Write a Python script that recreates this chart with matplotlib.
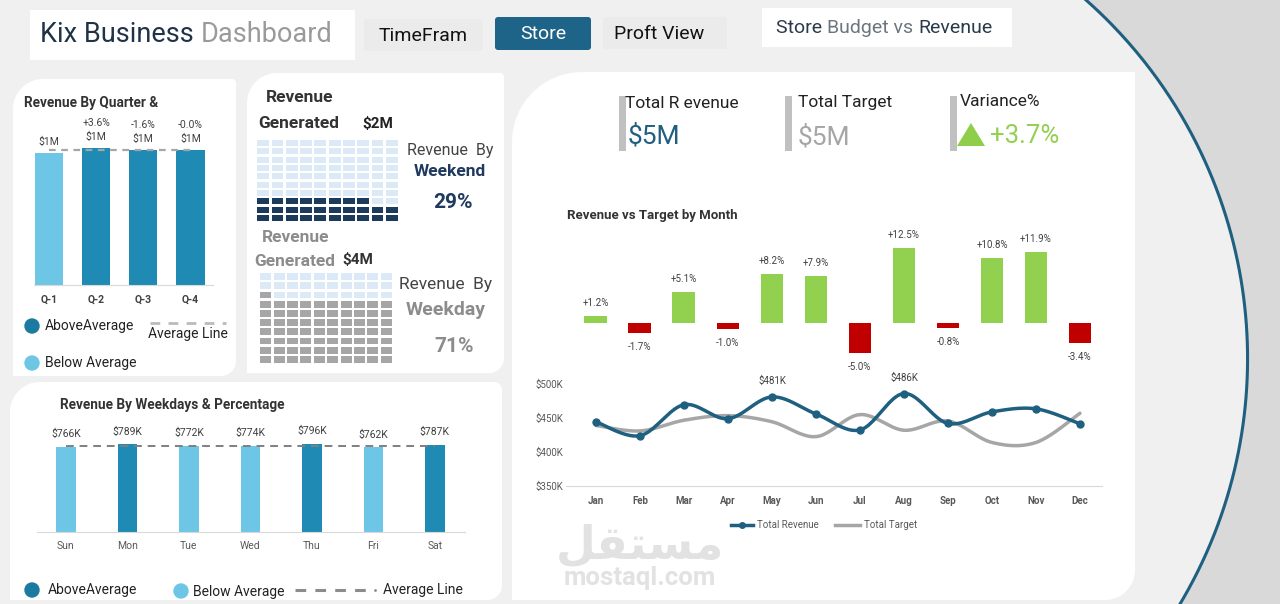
import numpy as np
import matplotlib
matplotlib.use('Agg')
import matplotlib.pyplot as plt
from matplotlib import font_manager
from matplotlib.patches import Polygon, Rectangle, Circle

W, H = 1280, 604

# ---- data (values in $K) ----
quarters = ['Q-1', 'Q-2', 'Q-3', 'Q-4']
quarter_revenue = [1339, 1387, 1365, 1364.7]

weekdays = ['Sun', 'Mon', 'Tue', 'Wed', 'Thu', 'Fri', 'Sat']
weekday_revenue = [766, 789, 772, 774, 796, 762, 787]
weekend_days = ['Sun', 'Sat']

months = ['Jan', 'Feb', 'Mar', 'Apr', 'May', 'Jun', 'Jul', 'Aug', 'Sep', 'Oct', 'Nov', 'Dec']
month_revenue = [444.5, 424, 469.5, 449, 481, 456, 432.5, 486, 442, 459, 463.5, 441.5]
month_target = [439, 431, 446.7, 453.5, 444.5, 422.6, 455, 432, 445.6, 414, 414, 457]
month_variance = [1.2, -1.7, 5.1, -1.0, 8.2, 7.9, -5.0, 12.5, -0.8, 10.8, 11.9, -3.4]
labelled_months = ['May', 'Aug']

# ---- colours ----
DARK = '#1f8ab4'
LIGHT = '#6ec6e6'
NAVY = '#1b3a5c'
TEAL = '#1f5f7f'
GREEN = '#92d050'
RED = '#c00000'
GREY = '#a6a6a6'
WAFFLE_BG = '#dce9f7'

names = {f.name for f in font_manager.fontManager.ttflist}
NARROW = 'Liberation Sans Narrow' if 'Liberation Sans Narrow' in names else 'Roboto'
plt.rcParams['font.family'] = ['Roboto', 'DejaVu Sans']

fig = plt.figure(figsize=(12.8, 6.04), dpi=100)
fig.patch.set_facecolor('#f0f0f0')
bg = fig.add_axes([0, 0, 1, 1])
bg.set_xlim(0, W)
bg.set_ylim(H, 0)
bg.axis('off')
renderer = fig.canvas.get_renderer()


def px_axes(x0, y0, x1, y1):
    ax = fig.add_axes([x0 / W, 1 - y1 / H, (x1 - x0) / W, (y1 - y0) / H])
    ax.patch.set_alpha(0)
    return ax


def panel(x0, y0, x1, y1, radii=(0, 0, 0, 0), color='white', z=1):
    tl, tr, br, bl = radii
    pts = []

    def arc(cx, cy, r, a0, a1):
        if r == 0:
            return [(cx, cy)]
        t = np.linspace(a0, a1, 16)
        return list(zip(cx + r * np.cos(t), cy + r * np.sin(t)))
    pts += arc(x0 + tl, y0 + tl, tl, np.pi, 1.5 * np.pi)
    pts += arc(x1 - tr, y0 + tr, tr, 1.5 * np.pi, 2 * np.pi)
    pts += arc(x1 - br, y1 - br, br, 0, 0.5 * np.pi)
    pts += arc(x0 + bl, y1 - bl, bl, 0.5 * np.pi, np.pi)
    bg.add_patch(Polygon(pts, closed=True, facecolor=color, edgecolor='none', zorder=z))


def rich(x, y, parts, size, **kw):
    # draw consecutive text pieces in different colours
    for txt, col in parts:
        t = bg.text(x, y, txt, color=col, fontsize=size, va='center', ha='left', zorder=5, **kw)
        x += t.get_window_extent(renderer).width


def smooth(x, y, n=24):
    # catmull-rom curve through the points (line style only)
    x = np.asarray(x, float)
    y = np.asarray(y, float)
    px = np.r_[x[0], x, x[-1]]
    py = np.r_[y[0], y, y[-1]]
    sx, sy = [], []
    t = np.linspace(0, 1, n)
    for i in range(1, len(x)):
        for arr, out in ((px, sx), (py, sy)):
            p0, p1, p2, p3 = arr[i - 1], arr[i], arr[i + 1], arr[i + 2]
            out.extend(0.5 * (2 * p1 + (-p0 + p2) * t + (2 * p0 - 5 * p1 + 4 * p2 - p3) * t ** 2
                              + (-p0 + 3 * p1 - 3 * p2 + p3) * t ** 3))
    return sx, sy


# ---- background arc on the right ----
A, B, C = np.array([1086, 0]), np.array([1246, 320]), np.array([1180, 604])
M = np.array([B - A, C - A]) * 2
rhs = np.array([B @ B - A @ A, C @ C - A @ A])
cx, cy = np.linalg.solve(M, rhs)
R = np.hypot(A[0] - cx, A[1] - cy)
ys = np.linspace(0, H, 200)
xs = cx + np.sqrt(R ** 2 - (ys - cy) ** 2)
bg.add_patch(Polygon(list(zip(xs, ys)) + [(W, H), (W, 0)], closed=True,
                     facecolor='#d9d9d9', edgecolor='none', zorder=0))
bg.plot(xs, ys, color=TEAL, lw=2.2, zorder=0.5)

# ---- header ----
panel(30, 10, 355, 60)
rich(40, 34, [('Kix Business ', '#1f3348'), ('Dashboard', '#9a9a9a')], 19.5, family=NARROW)
panel(364, 19, 483, 51, (3, 3, 3, 3), '#ebebeb')
bg.text(423, 36, 'TimeFram', fontsize=14, ha='center', va='center', color='#111', family=NARROW, zorder=5)
panel(495, 17, 591, 50, (3, 3, 3, 3), '#1e6488')
bg.text(543, 34, 'Store', fontsize=14, ha='center', va='center', color='white', family=NARROW, zorder=5)
panel(603, 17, 727, 49, (3, 3, 3, 3), '#ebebeb')
bg.text(659, 34, 'Proft View', fontsize=14, ha='center', va='center', color='#111', family=NARROW, zorder=5)
panel(762, 8, 1012, 47)
rich(776, 28, [('Store ', '#2b3a4a'), ('Budget vs ', '#6b7580'), ('Revenue', '#2b3a4a')], 14, family=NARROW)

# ---- panels ----
panel(13, 79, 236, 376, (30, 4, 15, 0))
panel(247, 73, 504, 373, (30, 4, 15, 0))
panel(512, 72, 1135, 600, (70, 0, 30, 0))
panel(10, 382, 502, 600, (30, 8, 15, 0))

# ---- revenue by quarter ----
bg.text(24, 103, 'Revenue By Quarter &', fontsize=9.8, fontweight='bold', color='#333', va='center', zorder=5)
axq = px_axes(34, 110, 213, 285)
xq = np.arange(len(quarters))
avg_q = np.mean(quarter_revenue)
axq.bar(xq, quarter_revenue, width=0.6, color=[DARK if v >= avg_q else LIGHT for v in quarter_revenue])
axq.plot([0, 3], [avg_q, avg_q], color=GREY, lw=1.6, ls=(0, (3, 2.5)))
axq.set_xlim(-0.32, 3.48)
axq.set_ylim(0, 1771)
for i, v in enumerate(quarter_revenue):
    axq.annotate(f'${v / 1000:.0f}M', (i, v), xytext=(0, 11), textcoords='offset pixels',
                 ha='center', va='center', fontsize=7.5, color='#404040')
    if i > 0:
        pct = (v / quarter_revenue[i - 1] - 1) * 100
        axq.annotate(f'{pct:+.1f}%', (i, v), xytext=(0, 25), textcoords='offset pixels',
                     ha='center', va='center', fontsize=7.5, color='#404040')
axq.set_xticks(xq, quarters)
axq.set_yticks([])
axq.tick_params(axis='x', length=0, pad=7, labelsize=7.5, labelcolor='#404040')
for lab in axq.get_xticklabels():
    lab.set_fontweight('bold')
for s in ['top', 'left', 'right']:
    axq.spines[s].set_visible(False)
axq.spines['bottom'].set_color('#d9d9d9')

bg.add_patch(Circle((32, 326), 7, color='#1a7aa0', zorder=5))
bg.text(45, 326, 'AboveAverage', fontsize=10, va='center', color='#222', family=NARROW, zorder=5)
bg.add_patch(Circle((32, 363), 7, color=LIGHT, zorder=5))
bg.text(45, 363, 'Below Average', fontsize=10, va='center', color='#222', family=NARROW, zorder=5)
bg.plot([150, 226], [323, 323], color='#bbbbbb', lw=2, ls=(0, (3.5, 3)), zorder=5)
bg.text(148, 334, 'Average Line', fontsize=10, va='center', color='#222', family=NARROW, zorder=5)

# ---- waffles: weekend vs weekday ----
total_week = sum(weekday_revenue)
weekend_rev = sum(v for d, v in zip(weekdays, weekday_revenue) if d in weekend_days)
weekday_rev = total_week - weekend_rev
weekend_share = weekend_rev / total_week * 100
weekday_share = weekday_rev / total_week * 100


def waffle(x0, y0, x1, y1, share, on_color, cw=0.82, ch=0.72):
    ax = px_axes(x0, y0, x1, y1)
    ax.set_xlim(0, 10)
    ax.set_ylim(0, 10)
    ax.axis('off')
    filled = int(share)
    for k in range(100):
        r, c = divmod(k, 10)
        ax.add_patch(Rectangle((c + (1 - cw) / 2, r + (1 - ch) / 2), cw, ch,
                               facecolor=on_color if k < filled else WAFFLE_BG, edgecolor='none'))


waffle(256, 139, 399, 222, weekend_share, NAVY)
waffle(259, 272, 393, 364, weekday_share, '#a6a6a6')

bg.text(266, 98, 'Revenue', fontsize=12.5, fontweight='bold', color='#333', va='center', zorder=5)
bg.text(258, 123, 'Generated', fontsize=12.5, fontweight='bold', color='#333', va='center', zorder=5)
bg.text(362, 124, f'${weekend_rev / 1000:.0f}M', fontsize=11, fontweight='bold', color='#222', va='center', zorder=5)
bg.text(450, 150, 'Revenue  By', fontsize=11.5, color='#444', ha='center', va='center', zorder=5)
bg.text(450, 172, 'Weekend', fontsize=12.5, fontweight='bold', color='#1f3a5e', ha='center', va='center', zorder=5)
bg.text(453, 203, f'{weekend_share:.0f}%', fontsize=15, fontweight='bold', color='#1f3a5e', ha='center', va='center', zorder=5)

bg.text(262, 237, 'Revenue', fontsize=12.5, fontweight='bold', color='#8c8c8c', va='center', zorder=5)
bg.text(254, 261, 'Generated', fontsize=12.5, fontweight='bold', color='#8c8c8c', va='center', zorder=5)
bg.text(342, 260, f'${weekday_rev / 1000:.0f}M', fontsize=11, fontweight='bold', color='#333', va='center', zorder=5)
bg.text(446, 284, 'Revenue  By', fontsize=12.5, color='#444', ha='center', va='center', zorder=5)
bg.text(446, 310, 'Weekday', fontsize=14, fontweight='bold', color='#8c8c8c', ha='center', va='center', zorder=5)
bg.text(454, 346, f'{weekday_share:.0f}%', fontsize=15, fontweight='bold', color='#8c8c8c', ha='center', va='center', zorder=5)

# ---- revenue by weekdays ----
bg.text(60, 405, 'Revenue By Weekdays & Percentage', fontsize=9.8, fontweight='bold', color='#333', va='center', zorder=5)
axw = px_axes(37, 420, 465, 532)
xw = np.arange(len(weekdays))
avg_w = np.mean(weekday_revenue)
axw.bar(xw, weekday_revenue, width=0.32, color=[DARK if v >= avg_w else LIGHT for v in weekday_revenue])
axw.plot([0, 6], [avg_w, avg_w], color='#7f7f7f', lw=1.4, ls=(0, (4, 3)))
axw.set_xlim(-0.47, 6.49)
axw.set_ylim(0, 1009)
for i, v in enumerate(weekday_revenue):
    axw.annotate(f'${v:.0f}K', (i, v), xytext=(0, 13), textcoords='offset pixels',
                 ha='center', va='center', fontsize=7.5, color='#404040')
axw.set_xticks(xw, weekdays)
axw.set_yticks([])
axw.tick_params(axis='x', length=0, pad=6.5, labelsize=7.5, labelcolor='#595959')
for s in ['top', 'left', 'right']:
    axw.spines[s].set_visible(False)
axw.spines['bottom'].set_color('#d9d9d9')

bg.add_patch(Circle((32, 590), 7, color='#1a7aa0', zorder=5))
bg.text(48, 590, 'AboveAverage', fontsize=10, va='center', color='#222', family=NARROW, zorder=5)
bg.add_patch(Circle((181, 591), 7, color=LIGHT, zorder=5))
bg.text(193, 592, 'Below Average', fontsize=10, va='center', color='#222', family=NARROW, zorder=5)
bg.plot([295, 370], [590, 590], color='#8c8c8c', lw=2.2, ls=(0, (3.5, 3)), zorder=5)
bg.plot([375], [590], marker='.', ms=2, color='#8c8c8c', zorder=5)
bg.text(383, 590, 'Average Line', fontsize=10, va='center', color='#222', family=NARROW, zorder=5)

# ---- KPIs ----
total_rev = sum(month_revenue)
total_tgt = sum(month_target)
variance = (total_rev / total_tgt - 1) * 100
for x0 in (619, 785, 950):
    bg.add_patch(Rectangle((x0, 96), 7, 55, facecolor='#c0c0c0', edgecolor='none', zorder=5))
bg.text(625, 103, 'Total R evenue', fontsize=12.5, color='#222', va='center', zorder=6)
bg.text(628, 136, f'${total_rev / 1000:.0f}M', fontsize=19, color=TEAL, va='center', zorder=6)
bg.text(798, 102, 'Total Target', fontsize=12.5, color='#222', va='center', zorder=6)
bg.text(798, 137, f'${total_tgt / 1000:.0f}M', fontsize=19, color=GREY, va='center', zorder=6)
bg.text(960, 102, 'Variance%', fontsize=12.5, color='#222', va='center', zorder=6)
bg.add_patch(Polygon([(957, 146), (985, 146), (971, 123)], closed=True, facecolor='#8fce4a', edgecolor='none', zorder=6))
bg.text(990, 136, f'{variance:+.1f}%', fontsize=18.5, color=GREEN, va='center', zorder=6)

# ---- revenue vs target by month ----
bg.text(567, 215, 'Revenue vs Target by Month', fontsize=9.5, fontweight='bold', color='#333', va='center', zorder=5)
xm = np.arange(len(months))
axv = px_axes(566, 225, 1102, 370)
axv.bar(xm, month_variance, width=0.52, color=[GREEN if v >= 0 else RED for v in month_variance])
axv.set_xlim(-0.68, 11.5)
axv.set_ylim(-7.83, 16.33)
axv.axis('off')
for i, v in enumerate(month_variance):
    axv.annotate(f'{v:+.1f}%', (i, v), xytext=(0, 13 if v >= 0 else -14), textcoords='offset pixels',
                 ha='center', va='center', fontsize=7, color='#404040')

axl = px_axes(566, 370, 1102, 486)
tx, ty = smooth(xm, month_target)
axl.plot(tx, ty, color=GREY, lw=2.5, solid_capstyle='round')
rx, ry = smooth(xm, month_revenue)
axl.plot(rx, ry, color=TEAL, lw=2.5, solid_capstyle='round')
axl.plot(xm, month_revenue, 'o', color=TEAL, ms=5)
for i, m in enumerate(months):
    if m in labelled_months:
        axl.annotate(f'${month_revenue[i]:.0f}K', (i, month_revenue[i]), xytext=(0, 16),
                     textcoords='offset pixels', ha='center', va='center', fontsize=7, color='#404040')
axl.set_xlim(-0.68, 11.5)
axl.set_ylim(350, 520.6)
axl.set_yticks([350, 400, 450, 500], [f'${v}K' for v in [350, 400, 450, 500]])
axl.set_xticks(xm, months)
axl.tick_params(axis='y', length=0, pad=2, labelsize=7, labelcolor='#595959')
axl.tick_params(axis='x', length=0, pad=7, labelsize=7, labelcolor='#595959')
for lab in axl.get_xticklabels():
    lab.set_fontweight('bold')
for s in ['top', 'left', 'right']:
    axl.spines[s].set_visible(False)
axl.spines['bottom'].set_color('#d9d9d9')

bg.plot([731, 753], [525, 525], color=TEAL, lw=2.5, zorder=5)
bg.plot([742], [525], 'o', color=TEAL, ms=4, zorder=5)
bg.text(757, 525, 'Total Revenue', fontsize=7, color='#595959', va='center', zorder=5)
bg.plot([835, 860], [525, 525], color=GREY, lw=2.5, zorder=5)
bg.text(864, 525, 'Total Target', fontsize=7, color='#595959', va='center', zorder=5)

# ---- watermark ----
bg.text(640, 546, '\uFEDE\uFED8\uFE98\uFEB4\uFEE3', fontsize=33, fontweight='bold', color='#e2e2e2',
        ha='center', va='center', family=['DejaVu Sans'], zorder=4)
bg.text(640, 578, 'mostaql.com', fontsize=18.5, fontweight='bold', color='#e2e2e2',
        ha='center', va='center', zorder=4)

fig.savefig('out.png', dpi=100, facecolor=fig.get_facecolor())
